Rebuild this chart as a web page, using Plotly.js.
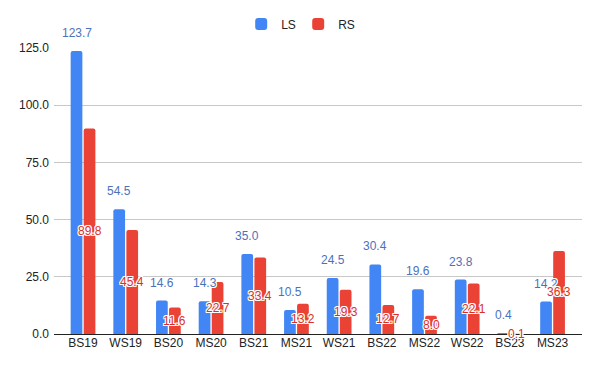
<!DOCTYPE html>
<html>
<head>
<meta charset="utf-8">
<script src="https://cdn.plot.ly/plotly-3.0.1.min.js"></script>
<style>html,body{margin:0;padding:0;background:#fff;}#chart{width:600px;height:371px;}</style>
</head>
<body>
<div id="chart"></div>
<script>
const categories = ['BS19','WS19','BS20','MS20','BS21','MS21','WS21','BS22','MS22','WS22','BS23','MS23'];
const lsValues = [123.7, 54.5, 14.6, 14.3, 35.0, 10.5, 24.5, 30.4, 19.6, 23.8, 0.4, 14.2];
const rsValues = [89.8, 45.4, 11.6, 22.7, 33.4, 13.2, 19.3, 12.7, 8.0, 22.1, 0.1, 36.3];
const yTicks = [0, 25, 50, 75, 100, 125];

const W = 600, H = 371;
const margin = {l: 54, r: 18, t: 48, b: 37, pad: 0};
const xRange = [-0.68, 11.69];
const bargap = 0.39;
const pxPerCat = (W - margin.l - margin.r) / (xRange[1] - xRange[0]);
const barShift = pxPerCat * (1 - bargap) / 4;
const FONT = '"Liberation Sans", Arial, sans-serif';

const halo = '-1px -1px 0 #fff, 1px -1px 0 #fff, -1px 1px 0 #fff, 1px 1px 0 #fff, 0 1px 0 #fff, 0 -1px 0 #fff, 1px 0 0 #fff, -1px 0 0 #fff';

const traces = [
  {type: 'bar', name: 'LS', x: categories, y: lsValues,
   marker: {color: '#4285F4', cornerradius: 2}, hoverinfo: 'none'},
  {type: 'bar', name: 'RS', x: categories, y: rsValues,
   marker: {color: '#EA4335', cornerradius: 2}, hoverinfo: 'none'}
];

const annotations = [];
categories.forEach((c, i) => {
  annotations.push({x: c, y: lsValues[i], xref: 'x', yref: 'y', text: lsValues[i].toFixed(1),
    showarrow: false, xshift: -barShift, yshift: 18, yanchor: 'middle',
    font: {family: FONT, size: 12, color: '#4A72BC', shadow: halo}});
});
categories.forEach((c, i) => {
  annotations.push({x: c, y: rsValues[i] / 2, xref: 'x', yref: 'y', text: rsValues[i].toFixed(1),
    showarrow: false, xshift: barShift, yanchor: 'middle',
    font: {family: FONT, size: 12, color: '#D93025', shadow: halo}});
});

const layout = {
  width: W, height: H, margin: margin,
  paper_bgcolor: '#fff', plot_bgcolor: '#fff',
  font: {family: FONT, size: 12, color: '#222'},
  barmode: 'group', bargap: bargap, bargroupgap: 0.1,
  showlegend: true,
  legend: {orientation: 'h', xref: 'container', yref: 'container', x: 0.497, xanchor: 'center',
           y: 1 - 24 / H, yanchor: 'middle', font: {family: FONT, size: 12, color: '#222'},
           entrywidth: 12, itemwidth: 30},
  xaxis: {type: 'category', range: xRange, showgrid: false, zeroline: false,
          showline: false, ticks: '', tickfont: {family: FONT, size: 12, color: '#222'}, fixedrange: true},
  yaxis: {range: [0, 125], tickvals: yTicks, tickformat: '.1f', showgrid: true,
          gridcolor: '#c8c8c8', gridwidth: 1, zeroline: true, zerolinecolor: '#222', zerolinewidth: 1,
          showline: false, ticks: '', ticklabelstandoff: 4, tickfont: {family: FONT, size: 12, color: '#222'}, fixedrange: true},
  annotations: annotations
};

Plotly.newPlot('chart', traces, layout, {displayModeBar: false, staticPlot: true});
</script>
</body>
</html>
